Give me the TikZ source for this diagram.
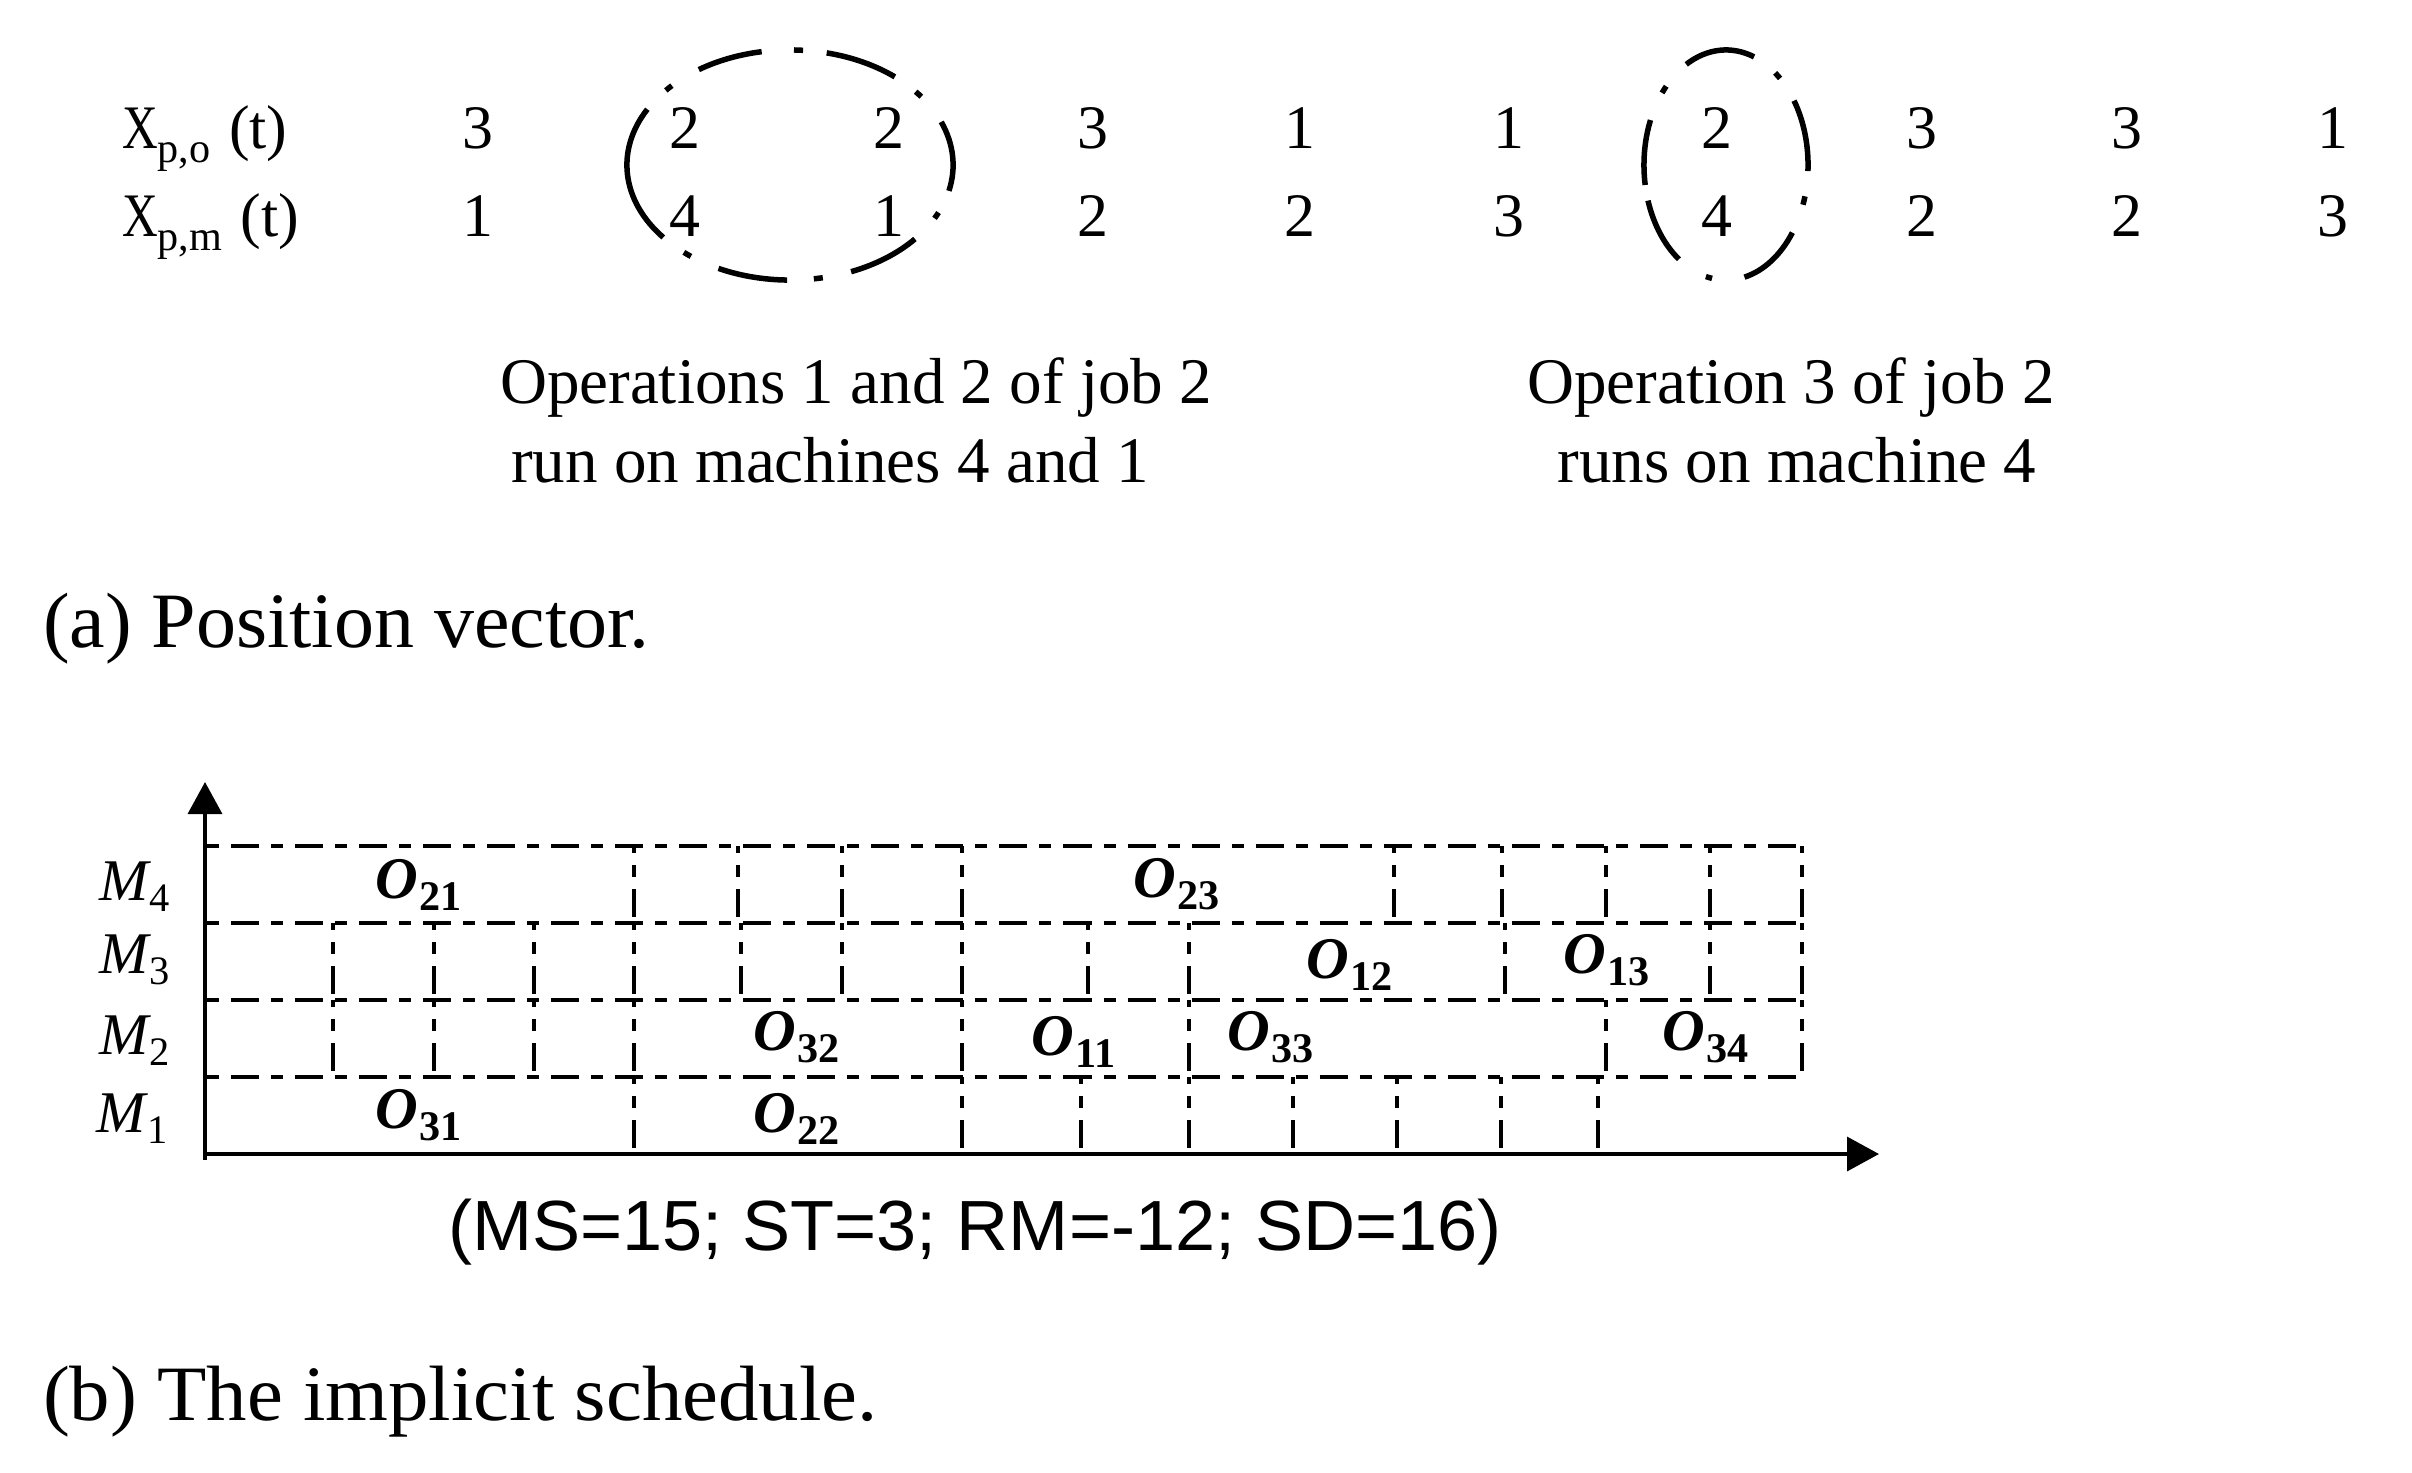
\documentclass[tikz,border=0pt]{standalone}
\usepackage{fontspec}
\newfontfamily\tnr{Liberation Serif}
\newfontfamily\arial{Liberation Sans}
\usetikzlibrary{arrows.meta}
\newcommand\opl[2]{{\bfseries\itshape #1}\kern0.03em\raisebox{-3.6pt}{\fontsize{12}{12}\selectfont\bfseries #2}}
\newcommand\mlab[2]{{\itshape #1}\kern0.02em\raisebox{-3.4pt}{\fontsize{11.5}{12}\selectfont #2}}
\newcommand\xlab[1]{\scalebox{0.8}[1]{X}\raisebox{-4pt}{\fontsize{12}{12}\selectfont #1}\hspace{0.3em}(t)}
\begin{document}
\begin{tikzpicture}[x=0.01cm,y=-0.01cm,
  txt/.style={inner sep=0pt,outer sep=0pt},
  num/.style={txt,anchor=base,font=\tnr\fontsize{17.6}{20}\selectfont},
  desc/.style={txt,anchor=base,font=\tnr\fontsize{18.5}{20}\selectfont},
  xl/.style={txt,anchor=base west,font=\tnr\fontsize{17.6}{20}\selectfont},
  capt/.style={txt,anchor=base west,font=\tnr\fontsize{22.3}{24}\selectfont},
  mss/.style={txt,anchor=base,font=\arial\fontsize{20.2}{22}\selectfont},
  ml/.style={txt,anchor=base west,font=\tnr\fontsize{16.8}{18}\selectfont},
  ol/.style={txt,anchor=base west,font=\tnr\fontsize{16.8}{18}\selectfont},
  eline/.style={line width=0.055cm,line cap=butt},
  hgrid/.style={line width=0.035cm,dash pattern=on 0.12cm off 0.12cm on 0.28cm off 0.12cm},
  vgrid/.style={line width=0.035cm,dash pattern=on 0.12cm off 0.12cm on 0.28cm off 0.12cm,dash phase=0.45cm},
  axis/.style={line width=0.035cm,-{Triangle[length=0.32cm,width=0.34cm]}}
]
\useasboundingbox (0,0) rectangle (2412,1472);

% ---------- (a) position vector ----------
\node[xl] (xpo) at (122,148) {\xlab{p,o}};
\node[xl] (xpm) at (122,236) {\xlab{p,m}};

\foreach \x/\a/\b [count=\i] in {478/3/1,685/2/4,889/2/1,1093/3/2,1300/1/2,1509/1/3,1717/2/4,1922/3/2,2127/3/2,2333/1/3}{
  \node[num] (o\i) at (\x,148) {\a};
  \node[num] (m\i) at (\x,236) {\b};
}

% dash-dot ellipse round operations 1 and 2 of job 2
\coordinate (e1c) at (790,165);
\foreach \a/\b in {151/219,244/269,292/320,347/382,50/77,100/124}{
  \draw[eline] (e1c) ++(\a:1.63cm and 1.15cm) arc[start angle=\a,end angle=\b,x radius=1.63cm,y radius=1.15cm];
}
\foreach \a [evaluate=\a as \aa using \a-1.6, evaluate=\a as \ab using \a+1.6] in {231,280,334,38,87,138}{
  \draw[eline] (e1c) ++(\aa:1.63cm and 1.15cm) arc[start angle=\aa,end angle=\ab,x radius=1.63cm,y radius=1.15cm];
}

% dash-dot ellipse round operation 3 of job 2
\coordinate (e2c) at (1726,165);
\foreach \a/\b in {70/119,357/394,283/324,198/235,157/190}{
  \draw[eline] (e2c) ++(\a:0.82cm and 1.15cm) arc[start angle=\a,end angle=\b,x radius=0.82cm,y radius=1.15cm];
}
\foreach \a [evaluate=\a as \aa using \a-2.2, evaluate=\a as \ab using \a+2.2] in {51,342,258,139}{
  \draw[eline] (e2c) ++(\aa:0.82cm and 1.15cm) arc[start angle=\aa,end angle=\ab,x radius=0.82cm,y radius=1.15cm];
}

\node[desc] (d1a) at (856,403) {Operations 1 and 2 of job 2};
\node[desc] (d1b) at (830,482) {run on machines 4 and 1};
\node[desc] (d2a) at (1791,403) {Operation 3 of job 2};
\node[desc] (d2b) at (1797,482) {runs on machine 4};

\node[capt] (capa) at (43,647) {\scalebox{1.02}[1]{(a) Position vector.}};

% ---------- (b) implicit schedule ----------
\coordinate (ybot) at (205,1160);
\coordinate (orig) at (205,1154);
\coordinate (ytip) at (205,782);
\coordinate (xtip) at (1879,1154);

\foreach \y in {846,923,1000,1077}{
  \draw[hgrid] (207,\y) -- (1802,\y);
}
\foreach \x in {634,738,842,962,1394,1502,1606,1710,1802}{
  \draw[vgrid] (\x,846) -- (\x,923);
}
\foreach \x in {333,434,534,634,741,842,962,1088,1189,1505,1710,1802}{
  \draw[vgrid] (\x,923) -- (\x,1000);
}
\foreach \x in {333,434,534,634,962,1189,1606,1802}{
  \draw[vgrid] (\x,1000) -- (\x,1077);
}
\foreach \x in {634,962,1081,1189,1293,1397,1501,1598}{
  \draw[vgrid] (\x,1077) -- (\x,1154);
}

\draw[axis] (ybot) -- (ytip);
\draw[axis] (orig) -- (xtip);

\node[ml] (M4) at (99,900) {\mlab{M}{4}};
\node[ml] (M3) at (99,973) {\mlab{M}{3}};
\node[ml] (M2) at (99,1054) {\mlab{M}{2}};
\node[ml] (M1) at (97,1132) {\mlab{M}{1}};

\node[ol] (O21) at (375,898) {\opl{O}{21}};
\node[ol] (O31) at (375,1128) {\opl{O}{31}};
\node[ol] (O32) at (753,1050) {\opl{O}{32}};
\node[ol] (O22) at (753,1132) {\opl{O}{22}};
\node[ol] (O23) at (1133,897) {\opl{O}{23}};
\node[ol] (O12) at (1306,978) {\opl{O}{12}};
\node[ol] (O13) at (1563,973) {\opl{O}{13}};
\node[ol] (O11) at (1031,1055) {\opl{O}{11}};
\node[ol] (O33) at (1227,1050) {\opl{O}{33}};
\node[ol] (O34) at (1662,1050) {\opl{O}{34}};

\node[mss] (ms) at (975,1250) {\scalebox{1.015}[1]{(MS=15; ST=3; RM=-12; SD=16)}};

\node[capt] (capb) at (43,1420) {\scalebox{1.03}[1]{(b) The implicit schedule.}};
\end{tikzpicture}
\end{document}
